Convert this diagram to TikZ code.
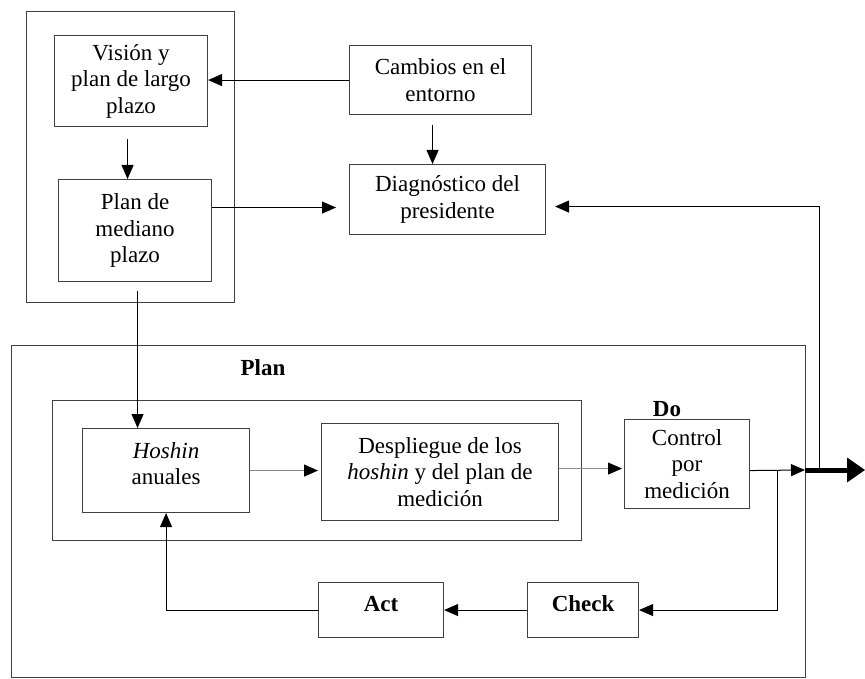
\documentclass[tikz,border=0pt]{standalone}
\usepackage{fontspec}
\setmainfont{Liberation Serif}
\usetikzlibrary{arrows.meta,calc}
\begin{document}
\begin{tikzpicture}[x=1pt,y=-1pt,
  frame/.style={draw=black!75, line width=1.1pt, inner sep=0pt, anchor=north west},
  box/.style={draw=black!75, line width=1.1pt, inner sep=0pt, align=center,
    anchor=north west, font=\fontsize{23}{26.5}\selectfont},
  txt/.style={align=center, inner sep=0pt, font=\fontsize{23}{26.5}\selectfont},
  lbl/.style={inner sep=0pt, font=\fontsize{23}{26.5}\selectfont\bfseries},
  tip/.style={-{Triangle[length=14pt,width=12pt,color=black]}},
  conn/.style={line width=1pt, draw=black, tip},
  softconn/.style={line width=1pt, draw=black!45, tip},
  bigout/.style={line width=5pt, -{Triangle[length=18pt,width=25pt,line width=0pt]}}]
\useasboundingbox (0,0) rectangle (865,679);

% enclosing frames
\node[frame, minimum width=208pt, minimum height=291pt] (strat) at (26,11) {};
\node[frame, minimum width=794pt, minimum height=332pt] (plancycle) at (11,345) {};
\node[frame, minimum width=529pt, minimum height=140pt] (planinner) at (52,400) {};

% boxes
\node[box, minimum width=153pt, minimum height=91pt] (vis) at (54,35)
  {Visión y\\plan de largo\\plazo};
\node[box, minimum width=153pt, minimum height=102pt] (pm) at (58,179)
  {Plan de\\mediano\\plazo};
\node[box, minimum width=182pt, minimum height=69pt] (camb) at (349,45)
  {Cambios en el\\entorno};
\node[box, minimum width=196pt, minimum height=70pt] (diag) at (349,164)
  {Diagnóstico del\\presidente};
\node[box, minimum width=167pt, minimum height=84pt] (hosh) at (82,428) {};
\node[txt] (hoshtxt) at ([yshift=7pt]hosh.center) {\textit{Hoshin}\\anuales};
\node[box, minimum width=237pt, minimum height=97pt] (desp) at (321,423)
  {Despliegue de los\\\textit{hoshin} y del plan de\\medición};
\node[box, minimum width=125pt, minimum height=89pt] (ctrl) at (624,419)
  {Control\\por\\medición};
\node[box, minimum width=111pt, minimum height=55pt] (check) at (527,582) {};
\node[lbl] (checktxt) at ([yshift=6pt]check.center) {Check};
\node[box, minimum width=125pt, minimum height=55pt] (act) at (318,582) {};
\node[lbl] (acttxt) at ([yshift=6pt]act.center) {Act};

% phase labels
\node[lbl] (plantxt) at (263,368) {Plan};
\node[lbl] (dotxt) at (667,409) {Do};

% junction points on the output line
\coordinate (j) at (805,470);
\coordinate (out) at (865,470);
\coordinate (up) at (819,470);
\coordinate (down) at (777,470);

% connectors
\draw[conn] (camb.west) -- (camb.west -| vis.east);
\draw[conn, shorten <=12pt] ([xshift=-3.5pt]vis.south) -- ([xshift=-3.5pt]vis.south |- pm.north);
\draw[conn, shorten <=10pt] ([xshift=-8pt]camb.south) -- ([xshift=-8pt]camb.south |- diag.north);
\draw[conn, shorten >=13pt] ([yshift=23pt]pm.east) -- ([yshift=23pt]pm.east -| diag.west);
\draw[conn, shorten <=9pt] ([xshift=2.5pt]pm.south) -- ([xshift=2.5pt]pm.south |- hosh.north);
\draw[softconn, shorten >=3pt] (hosh.east) -- (hosh.east -| desp.west);
\draw[softconn, shorten >=2pt] ([yshift=3.5pt]desp.east) -- ([yshift=3.5pt]desp.east -| ctrl.west);
\draw[conn] ([yshift=-6.5pt]ctrl.east) -- (j);
\draw[bigout] (j) -- (out);
\draw[conn, shorten >=9pt] (up) |- ([yshift=-7pt]diag.east);
\draw[conn] (down) |- (check.east);
\draw[conn] (check.west) -- (act.east);
\draw[conn] (act.west) -| (hosh.south);
\end{tikzpicture}
\end{document}
